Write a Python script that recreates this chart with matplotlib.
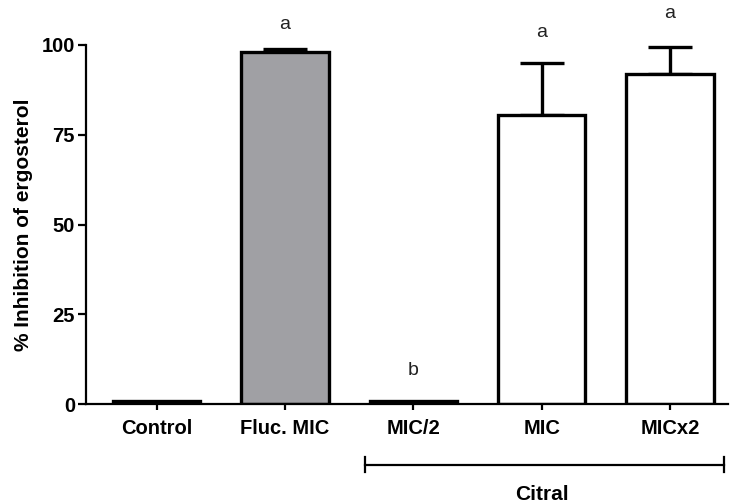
import matplotlib
matplotlib.use("Agg")
from matplotlib import pyplot as plt

plt.rcParams['font.family'] = ['Liberation Sans', 'DejaVu Sans']

groups = ["Control", "Fluc. MIC", "MIC/2", "MIC", "MICx2"]
values = [0.8, 98.0, 0.8, 80.5, 92.0]
errors = [0.0, 0.8, 0.0, 14.5, 7.5]
letters = ["", "a", "b", "a", "a"]
letter_y = [None, 105.8, 9.3, 103.3, 108.6]
colors = ["white", "#a0a0a4", "white", "white", "white"]

fig = plt.figure(figsize=(7.3, 5.04), dpi=100)
ax = fig.add_axes([0.118, 0.198, 0.879, 0.713])

x = list(range(len(groups)))
ax.bar(x, values, width=0.68, color=colors, edgecolor="black", linewidth=2.4, zorder=2)
for i in x:
    if errors[i] > 0:
        ax.errorbar(i, values[i], yerr=[[0], [errors[i]]], fmt="none", ecolor="black",
                    elinewidth=2.4, capsize=16, capthick=2.4, zorder=1)

# significance letters
for i in x:
    if letters[i]:
        ax.text(i, letter_y[i], letters[i], ha="center", va="center", fontsize=14,
                color="#222222", clip_on=False)

ax.set_xlim(-0.55, 4.45)
ax.set_ylim(0, 100)
ax.set_yticks([0, 25, 50, 75, 100])
ax.set_xticks(x)
ax.set_xticklabels(groups, fontsize=14.5, fontweight="bold")
for lab in ax.get_yticklabels():
    lab.set_fontsize(14.5)
    lab.set_fontweight("bold")
ax.set_ylabel("% Inhibition of ergosterol", fontsize=15, fontweight="bold", labelpad=6)

ax.spines["top"].set_visible(False)
ax.spines["right"].set_visible(False)
ax.spines["left"].set_linewidth(1.6)
ax.spines["bottom"].set_linewidth(1.6)
ax.tick_params(axis="y", length=6, width=1.6, direction="out", pad=2)
ax.tick_params(axis="x", length=4, width=1.6, direction="out", pad=7)

# Citral bracket
trans = ax.get_xaxis_transform()
y_br = -0.168
ax.plot([1.62, 4.42], [y_br, y_br], color="black", lw=1.6, transform=trans, clip_on=False)
for xe in [1.62, 4.42]:
    ax.plot([xe, xe], [y_br - 0.02, y_br + 0.02], color="black", lw=1.6,
            transform=trans, clip_on=False)
ax.text(3.0, -0.25, "Citral", ha="center", va="center", fontsize=15,
        fontweight="bold", transform=trans)

fig.savefig("out.png", dpi=100)
